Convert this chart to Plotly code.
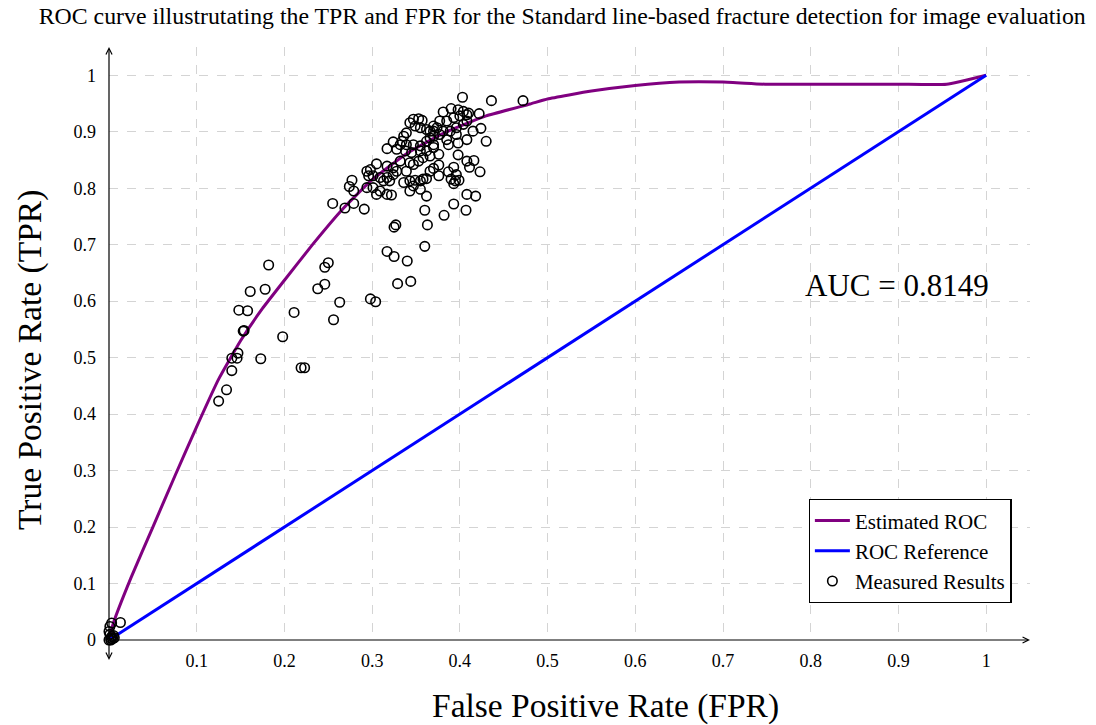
import plotly.graph_objects as go

# ---------------- data ----------------
roc_fpr = [0, 0.005, 0.025, 0.05, 0.075, 0.1, 0.125, 0.15, 0.175, 0.2, 0.232, 0.267,
           0.3, 0.34, 0.385, 0.43, 0.48, 0.5, 0.55, 0.6, 0.65, 0.7, 0.75, 0.8, 0.9, 0.955, 1.0]
roc_tpr = [0, 0.03, 0.11, 0.2, 0.29, 0.378, 0.462, 0.53, 0.587, 0.637, 0.7, 0.764,
           0.815, 0.862, 0.9, 0.928, 0.949, 0.958, 0.972, 0.982, 0.988, 0.988, 0.984, 0.984, 0.984, 0.984, 1.0]

ref_fpr = [0, 1]
ref_tpr = [0, 1]

meas_fpr = [
    0, 0.002, 0.003, 0.001, 0.004, 0.005, 0.0, 0.001, 0.003, 0.013, 0.006, 0.002,
    0.182, 0.161, 0.178, 0.148, 0.158, 0.153, 0.154, 0.147, 0.140, 0.146, 0.140, 0.134, 0.125,
    0.173, 0.211, 0.198, 0.219, 0.223, 0.250, 0.246, 0.238, 0.246, 0.263, 0.256, 0.298, 0.304,
    0.403, 0.436, 0.472, 0.422, 0.424, 0.430, 0.415, 0.381, 0.390, 0.398, 0.404, 0.408, 0.400,
    0.393, 0.385, 0.377, 0.408, 0.404, 0.396, 0.389, 0.381, 0.374, 0.370, 0.366, 0.370, 0.377,
    0.385, 0.396, 0.398, 0.387, 0.408, 0.410, 0.347, 0.353, 0.357, 0.343, 0.349, 0.355, 0.362,
    0.370, 0.339, 0.336, 0.334, 0.332, 0.339, 0.347, 0.355, 0.362, 0.366, 0.370, 0.324, 0.328,
    0.317, 0.338, 0.345, 0.355, 0.362, 0.370, 0.376, 0.366, 0.358, 0.353, 0.347, 0.343, 0.332,
    0.324, 0.317, 0.328, 0.339, 0.324, 0.317, 0.309, 0.313, 0.320, 0.305, 0.294, 0.298, 0.296,
    0.301, 0.294, 0.301, 0.305, 0.309, 0.317, 0.322, 0.336, 0.343, 0.349, 0.355, 0.358, 0.362,
    0.347, 0.355, 0.343, 0.362, 0.370, 0.376, 0.366, 0.376, 0.398, 0.408, 0.416, 0.411, 0.423,
    0.387, 0.393, 0.396, 0.390, 0.395, 0.399, 0.393, 0.408, 0.418, 0.393, 0.407, 0.382, 0.360,
    0.363, 0.360, 0.325, 0.327, 0.317, 0.325, 0.340, 0.329, 0.344, 0.277, 0.274, 0.279, 0.255,
    0.269, 0.279, 0.291,
]
meas_tpr = [
    0, 0.003, 0.006, 0.010, 0.002, 0.008, 0.015, 0.024, 0.030, 0.031, 0.004, 0.0,
    0.664, 0.617, 0.621, 0.584, 0.583, 0.547, 0.548, 0.508, 0.499, 0.499, 0.477, 0.443, 0.423,
    0.498, 0.580, 0.537, 0.482, 0.482, 0.668, 0.660, 0.622, 0.630, 0.598, 0.567, 0.604, 0.599,
    0.961, 0.955, 0.955, 0.932, 0.906, 0.883, 0.901, 0.935, 0.941, 0.939, 0.936, 0.930, 0.928,
    0.925, 0.919, 0.919, 0.919, 0.913, 0.907, 0.901, 0.901, 0.907, 0.910, 0.901, 0.892, 0.895,
    0.886, 0.895, 0.880, 0.877, 0.886, 0.933, 0.922, 0.923, 0.920, 0.916, 0.910, 0.907, 0.904,
    0.901, 0.898, 0.892, 0.883, 0.877, 0.877, 0.877, 0.875, 0.883, 0.889, 0.877, 0.882, 0.869,
    0.870, 0.866, 0.863, 0.866, 0.866, 0.872, 0.860, 0.857, 0.854, 0.848, 0.842, 0.845, 0.848,
    0.836, 0.839, 0.830, 0.830, 0.824, 0.819, 0.819, 0.813, 0.813, 0.843, 0.830, 0.833, 0.822,
    0.822, 0.801, 0.801, 0.789, 0.795, 0.789, 0.788, 0.810, 0.813, 0.814, 0.813, 0.816, 0.817,
    0.804, 0.798, 0.795, 0.786, 0.835, 0.841, 0.830, 0.822, 0.859, 0.848, 0.849, 0.837, 0.829,
    0.829, 0.837, 0.824, 0.816, 0.813, 0.814, 0.808, 0.789, 0.786, 0.772, 0.761, 0.752, 0.761,
    0.735, 0.697, 0.731, 0.735, 0.688, 0.679, 0.671, 0.631, 0.635, 0.814, 0.803, 0.795, 0.773,
    0.765, 0.773, 0.763,
]

x_ticks = [0.1, 0.2, 0.3, 0.4, 0.5, 0.6, 0.7, 0.8, 0.9, 1.0]
x_tick_text = ["0.1", "0.2", "0.3", "0.4", "0.5", "0.6", "0.7", "0.8", "0.9", "1"]
y_ticks = [0, 0.1, 0.2, 0.3, 0.4, 0.5, 0.6, 0.7, 0.8, 0.9, 1.0]
y_tick_text = ["0", "0.1", "0.2", "0.3", "0.4", "0.5", "0.6", "0.7", "0.8", "0.9", "1"]

auc_text = "AUC = 0.8149"
x_title = "False Positive Rate (FPR)"
y_title = "True Positive Rate (TPR)"
title_text = ("ROC curve illustrutating the TPR and FPR for the Standard "
              "line-based fracture detection for image evaluation")

FONT = "Liberation Serif"

# ---------------- figure ----------------
fig = go.Figure()
fig.add_trace(go.Scatter(x=roc_fpr, y=roc_tpr, mode="lines", name="Estimated ROC",
                         line=dict(color="#800080", width=3, shape="spline", smoothing=0.4)))
fig.add_trace(go.Scatter(x=ref_fpr, y=ref_tpr, mode="lines", name="ROC Reference",
                         line=dict(color="#0000ff", width=3)))
fig.add_trace(go.Scatter(x=meas_fpr, y=meas_tpr, mode="markers", name="Measured Results",
                         cliponaxis=False,
                         marker=dict(symbol="circle-open", size=9.5, color="black",
                                     line=dict(color="black", width=1.6))))

fig.update_layout(
    width=1096, height=725,
    margin=dict(l=109, r=66, t=47, b=85, autoexpand=False),
    paper_bgcolor="white", plot_bgcolor="white",
    font=dict(family=FONT, color="black", size=18),
    title=dict(text=title_text, x=0.513, xref="container", xanchor="center",
               y=0.979, yref="container", yanchor="middle",
               font=dict(family=FONT, size=23.8, color="black")),
    showlegend=True,
    legend=dict(x=0.98, y=0.0624, xanchor="right", yanchor="bottom",
                bgcolor="white", bordercolor="black", borderwidth=1.3,
                font=dict(family=FONT, size=21, color="black"),
                tracegroupgap=0, itemwidth=35),
)

fig.update_xaxes(
    range=[0, 1.05], tickmode="array", tickvals=x_ticks, ticktext=x_tick_text,
    showgrid=True, gridcolor="#d4d4d4", griddash="dash", gridwidth=1,
    zeroline=False, showline=False, ticks="", ticklabelstandoff=8,
    tickfont=dict(family=FONT, size=18, color="black"),
    automargin=False,
)
fig.update_yaxes(
    range=[0, 1.05], tickmode="array", tickvals=y_ticks, ticktext=y_tick_text,
    showgrid=True, gridcolor="#d4d4d4", griddash="dash", gridwidth=1,
    zeroline=False, showline=False, ticks="", ticklabelstandoff=12,
    tickfont=dict(family=FONT, size=18, color="black"),
    automargin=False,
)

plot_w = 1096 - 109 - 66
plot_h = 725 - 47 - 85

# axis titles
fig.add_annotation(x=(605 - 109) / plot_w, y=-66 / plot_h, xref="paper", yref="paper",
                   text=x_title, showarrow=False, xanchor="center", yanchor="middle",
                   font=dict(family=FONT, size=33.5, color="black"))
fig.add_annotation(x=-79 / plot_w, y=(640 - 360) / plot_h, xref="paper", yref="paper",
                   text=y_title, showarrow=False, textangle=-90,
                   xanchor="center", yanchor="middle",
                   font=dict(family=FONT, size=33.5, color="black"))

# axis lines with arrows (pgfplots "axis lines = middle" look)
arrow_common = dict(showarrow=True, text="", arrowhead=5, arrowsize=1, arrowwidth=1.2,
                    arrowcolor="black", xref="paper", yref="paper", axref="pixel", ayref="pixel")
fig.add_annotation(x=1, y=0, ax=-plot_w, ay=0, **arrow_common)
fig.add_annotation(x=0, y=1, ax=0, ay=plot_h, **arrow_common)
fig.add_annotation(x=0, y=-20 / plot_h, ax=0, ay=-20, **arrow_common)

fig.add_annotation(x=0.898, y=0.627, xref="x", yref="y", text=auc_text, showarrow=False,
                   font=dict(family=FONT, size=31, color="black"))

fig.write_html("out.html")
